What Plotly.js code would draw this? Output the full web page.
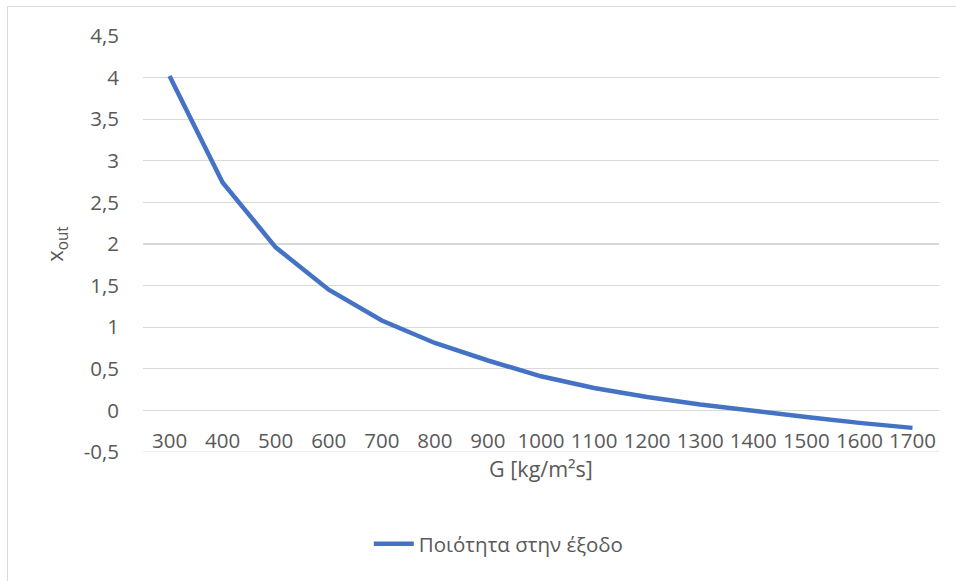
<!DOCTYPE html>
<html>
<head>
<meta charset="utf-8">
<script src="https://cdn.plot.ly/plotly-3.0.1.min.js"></script>
<style>
html,body{margin:0;padding:0;background:#fff;}
#frame{position:absolute;left:7px;top:6px;width:960px;height:590px;border:1px solid #d9d9d9;box-sizing:border-box;}
#chart{position:absolute;left:0;top:0;width:956px;height:581px;}
</style>
</head>
<body>
<div id="frame"></div>
<div id="chart"></div>
<script>
const categories = ["300","400","500","600","700","800","900","1000","1100","1200","1300","1400","1500","1600","1700"];
const xout = [4.02, 2.74, 1.96, 1.45, 1.08, 0.81, 0.60, 0.41, 0.27, 0.16, 0.07, -0.01, -0.08, -0.15, -0.21];
const yTickVals = [-0.5, 0, 0.5, 1, 1.5, 2, 2.5, 3, 3.5, 4, 4.5];
const yTickText = yTickVals.map(v => String(v).replace(".", ","));
const seriesName = "Ποιότητα στην έξοδο";
const xTitle = "G [kg/m²s]";
const yTitle = "x<sub>out</sub>";

const font = "Open Sans, Liberation Sans, sans-serif";
const trace = {
  x: categories, y: xout, type: "scatter", mode: "lines", name: seriesName,
  line: {color: "#4472C4", width: 4.5, shape: "linear"},
  showlegend: true
};
const yMin = yTickVals[0];
const yMax = yTickVals[yTickVals.length - 1];
const layout = {
  width: 956, height: 581,
  paper_bgcolor: "rgba(0,0,0,0)", plot_bgcolor: "rgba(0,0,0,0)",
  margin: {l: 143, r: 17, t: 36, b: 129},
  font: {family: font, color: "#595959", size: 20},
  xaxis: {
    type: "category", range: [-0.5, categories.length - 0.5],
    anchor: "free", position: 0.062,
    showgrid: false, zeroline: false, showline: false, ticks: "",
    tickfont: {size: 20.5, color: "#595959"},
    ticklabelstandoff: 0,
    title: {text: xTitle, font: {size: 21.5, color: "#595959"}, standoff: 7},
    fixedrange: true
  },
  yaxis: {
    range: [yMin, yMax], tickmode: "array", tickvals: yTickVals, ticktext: yTickText,
    showgrid: true, gridcolor: "#d9d9d9", gridwidth: 1.2,
    zeroline: false, showline: false, ticks: "",
    tickfont: {size: 20.5, color: "#595959"},
    ticklabelstandoff: 23,
    title: {text: yTitle, font: {size: 22, color: "#595959"}, standoff: 13},
    fixedrange: true
  },
  shapes: [{
    type: "line", xref: "paper", yref: "y", x0: 0, x1: 1, y0: yMin, y1: yMin,
    line: {color: "#d9d9d9", width: 1.2}, layer: "below"
  }],
  legend: {
    orientation: "h", x: 0.447, xanchor: "center", y: -0.221, yanchor: "middle",
    font: {size: 20.5, color: "#595959"}, itemwidth: 40
  },
  showlegend: true
};
Plotly.newPlot("chart", [trace], layout, {displayModeBar: false, staticPlot: true});
</script>
</body>
</html>
